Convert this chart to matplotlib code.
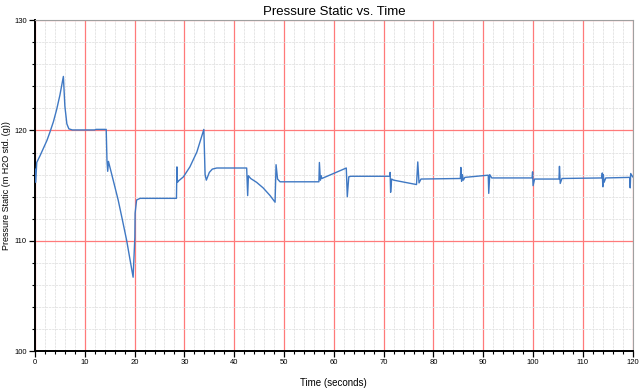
import matplotlib
matplotlib.use("Agg")
import matplotlib.pyplot as plt
from matplotlib.ticker import MultipleLocator

plt.rcParams['font.family'] = ['Liberation Sans', 'DejaVu Sans']

# time (s) and pressure (m H2O) waypoints
time_s = [
    0.0, 0.15, 0.35, 1.0, 1.7, 2.4, 3.0, 3.7, 4.35, 5.0, 5.7,
    6.0, 6.4, 6.8, 7.5, 9.0, 12.0, 12.2, 14.3,
    14.45, 14.6, 14.75, 15.7, 16.7, 17.5, 18.4, 19.0, 19.7,
    20.05, 20.1, 20.4, 21.1, 28.4,
    28.5, 28.6, 28.75, 29.8, 31.1, 32.5, 33.9,
    34.15, 34.4, 35.0, 35.6, 36.5, 42.5,
    42.7, 42.85, 43.3, 44.5, 45.8, 47.2, 48.2,
    48.4, 48.7, 49.2, 57.0,
    57.1, 57.3, 57.45, 57.6, 62.5,
    62.7, 63.0, 63.4, 71.2,
    71.3, 71.4, 71.6, 72.0, 76.6,
    76.85, 77.1, 77.5, 85.4,
    85.5, 85.65, 85.8, 86.0, 86.3, 91.0,
    91.1, 91.3, 91.7, 99.8,
    99.9, 100.0, 100.3, 105.2,
    105.3, 105.45, 105.8, 113.8,
    113.9, 114.0, 114.1, 114.25, 114.6, 119.4,
    119.5, 119.6, 120.0,
]
pressure = [
    116.5, 115.3, 117.1, 117.7, 118.4, 119.1, 119.85, 120.8, 121.9, 123.2, 124.9,
    122.2, 120.6, 120.15, 120.05, 120.05, 120.05, 120.1, 120.1,
    117.3, 116.3, 117.2, 115.5, 113.7, 112.0, 110.05, 108.5, 106.7,
    110.3, 112.5, 113.7, 113.85, 113.85,
    116.7, 115.3, 115.4, 115.8, 116.7, 118.05, 120.1,
    116.0, 115.5, 116.2, 116.5, 116.6, 116.6,
    114.1, 115.9, 115.65, 115.3, 114.8, 114.1, 113.5,
    116.9, 115.6, 115.35, 115.35,
    117.1, 115.5, 115.9, 115.65, 116.6,
    114.0, 115.8, 115.85, 115.85,
    116.2, 114.4, 115.6, 115.5, 115.1,
    117.15, 115.25, 115.6, 115.65,
    116.65, 115.4, 116.0, 115.5, 115.75, 115.95,
    114.3, 116.0, 115.7, 115.7,
    116.25, 115.0, 115.6, 115.6,
    116.75, 115.2, 115.65, 115.7,
    116.15, 114.9, 116.0, 115.3, 115.7, 115.75,
    114.8, 116.1, 115.8,
]

fig = plt.figure(figsize=(6.42, 3.88), dpi=100)
ax = fig.add_axes([0.0545, 0.095, 0.931, 0.853])

ax.plot(time_s, pressure, color='#3f78c3', linewidth=1.0, zorder=3)

ax.set_xlim(0, 120)
ax.set_ylim(100, 130)
ax.xaxis.set_major_locator(MultipleLocator(10))
ax.xaxis.set_minor_locator(MultipleLocator(2))
ax.yaxis.set_major_locator(MultipleLocator(10))
ax.yaxis.set_minor_locator(MultipleLocator(2))

ax.grid(which='minor', color='#e2e2e2', linewidth=0.6, linestyle=(0, (3, 1)))
ax.grid(which='major', color='#ff7a7a', linewidth=0.9)
ax.set_axisbelow(True)

for side in ('top', 'right'):
    ax.spines[side].set_color('#a0a0a0')
    ax.spines[side].set_linewidth(0.8)
for side in ('left', 'bottom'):
    ax.spines[side].set_color('black')
    ax.spines[side].set_linewidth(1.4)

ax.tick_params(which='major', direction='out', length=4, width=0.9, labelsize=5.5, pad=2)
ax.tick_params(which='minor', direction='out', length=2.5, width=0.8)

ax.set_title('Pressure Static vs. Time', fontsize=9.5, pad=4)
ax.set_xlabel('Time (seconds)', fontsize=7, labelpad=8)
ax.set_ylabel('Pressure Static (m H2O std. (g))', fontsize=6.5, labelpad=2)

fig.savefig('out.png', dpi=100)
